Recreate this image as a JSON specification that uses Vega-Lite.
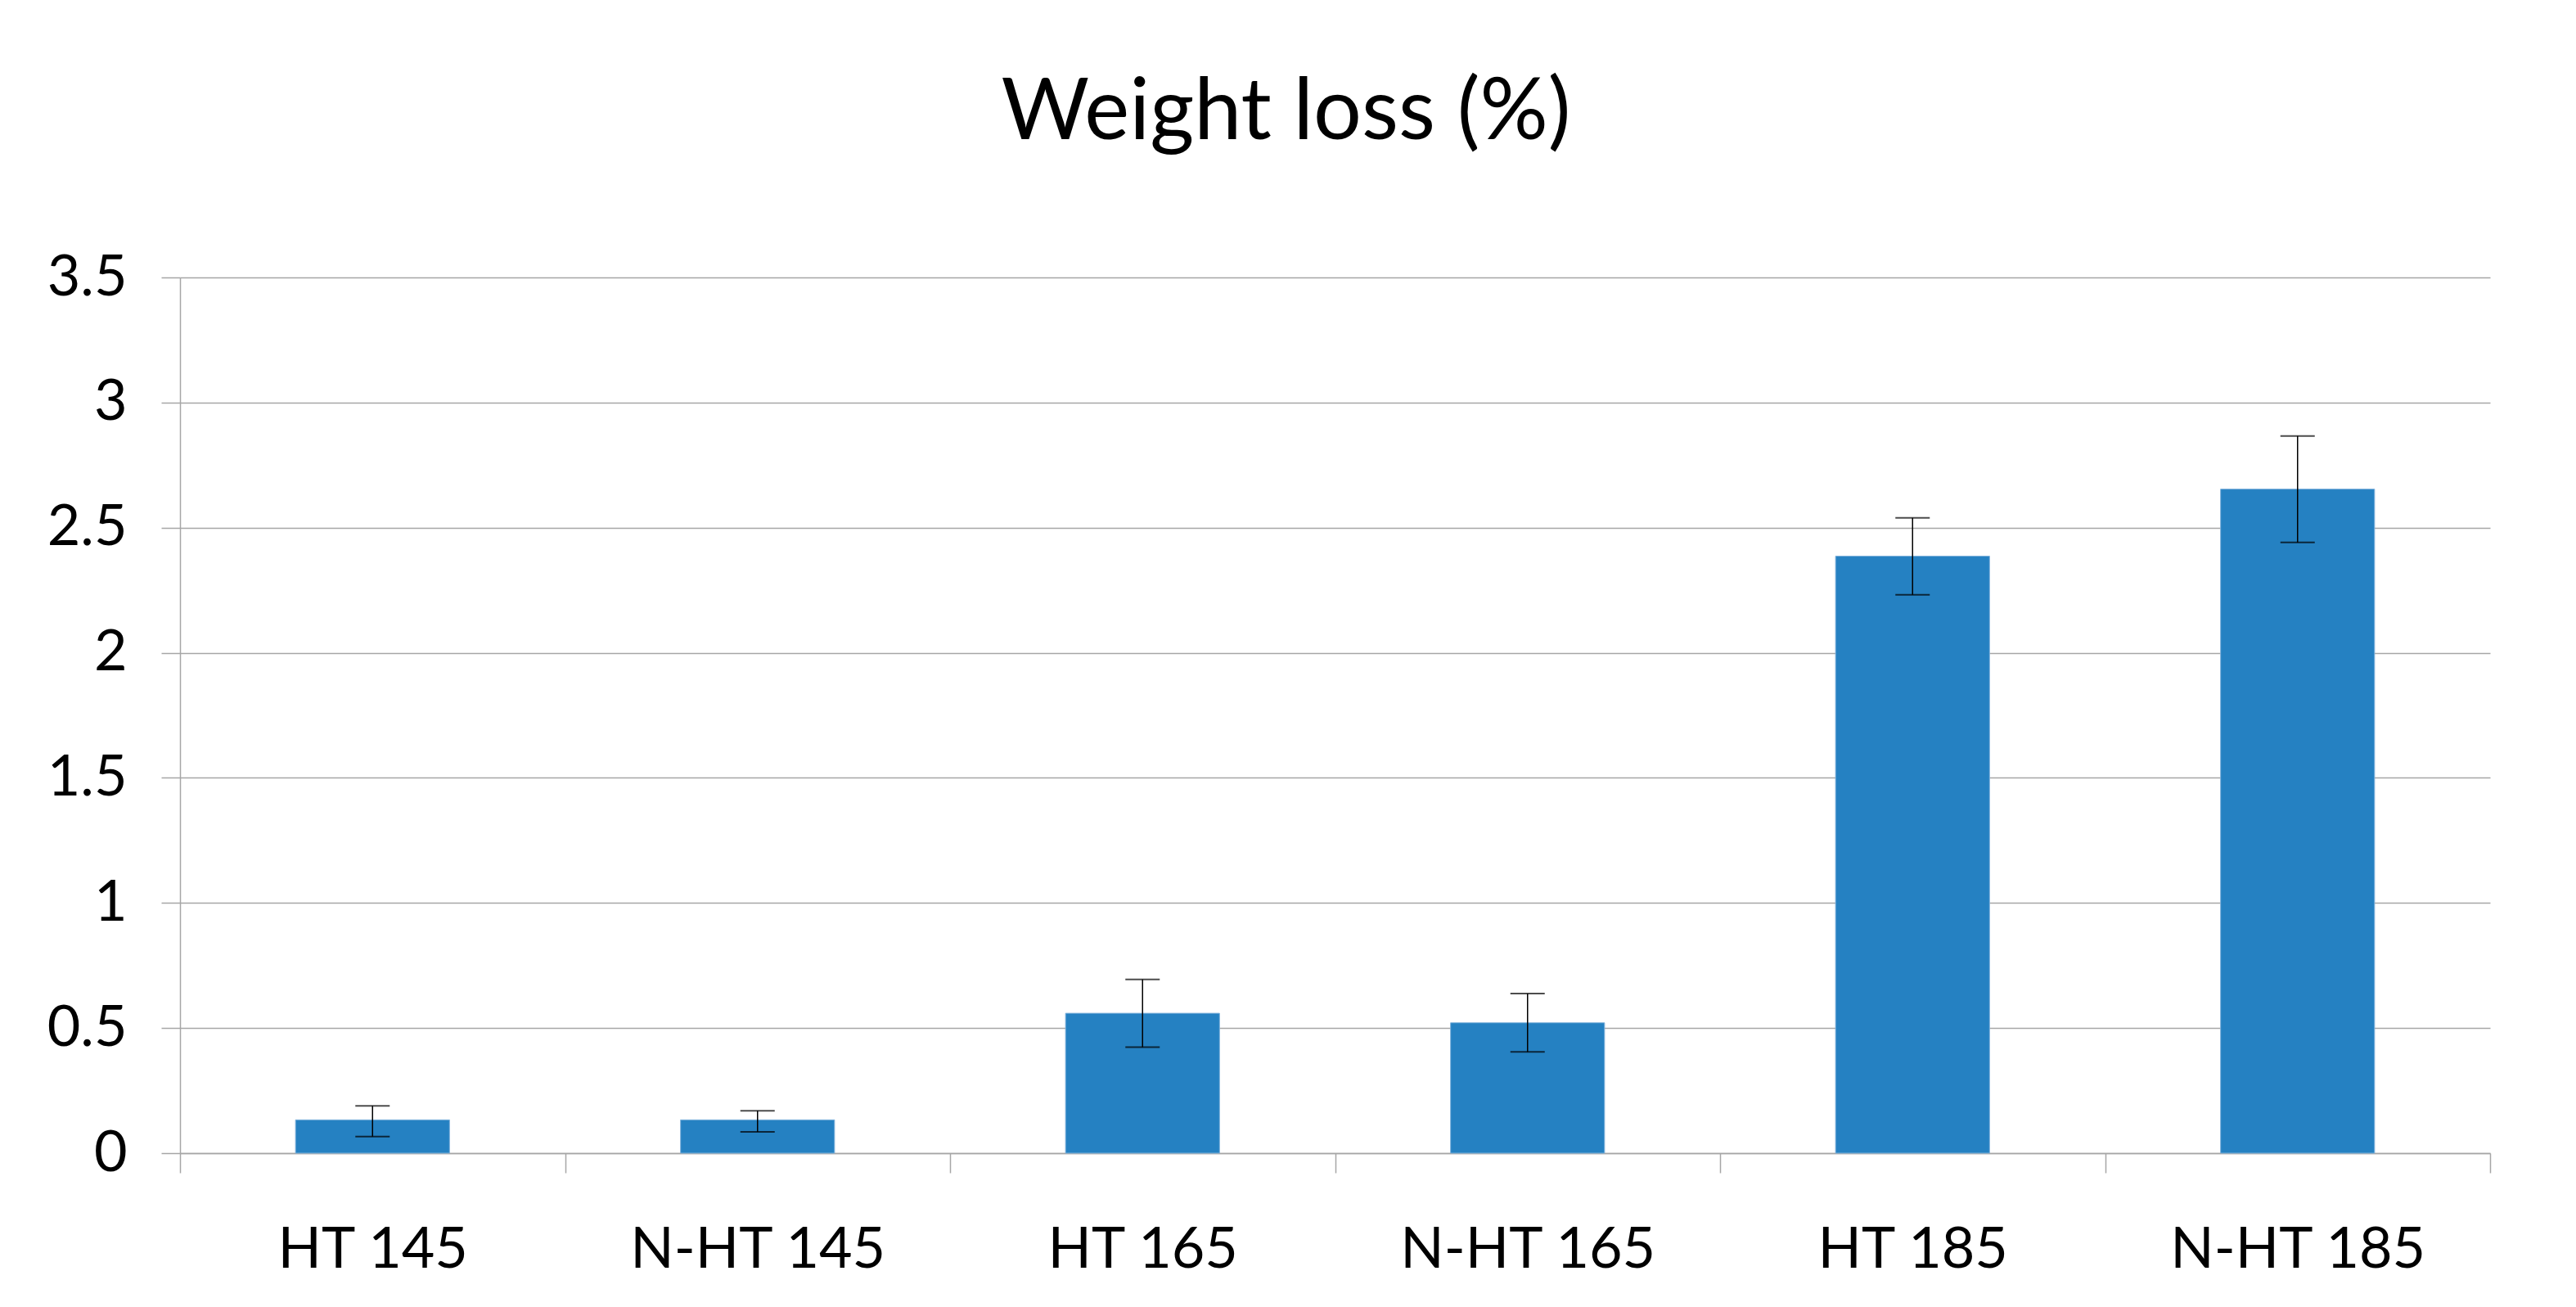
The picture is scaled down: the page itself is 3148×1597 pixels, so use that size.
{
  "$schema": "https://vega.github.io/schema/vega-lite/v6.json",
  "autosize": {"type": "none"},
  "width": 2823,
  "height": 1070,
  "padding": {"left": 220, "top": 339, "right": 105, "bottom": 188},
  "background": "white",
  "title": {
    "text": "Weight loss (%)",
    "font": "Lato",
    "fontSize": 104,
    "fontWeight": "normal",
    "color": "black",
    "anchor": "middle",
    "dx": -60,
    "offset": 112
  },
  "data": {
    "values": [
      {"group": "HT 145", "mean": 0.133, "low": 0.066, "high": 0.189},
      {"group": "N-HT 145", "mean": 0.133, "low": 0.085, "high": 0.169},
      {"group": "HT 165", "mean": 0.559, "low": 0.424, "high": 0.694},
      {"group": "N-HT 165", "mean": 0.521, "low": 0.405, "high": 0.638},
      {"group": "HT 185", "mean": 2.386, "low": 2.232, "high": 2.539},
      {"group": "N-HT 185", "mean": 2.654, "low": 2.441, "high": 2.866}
    ]
  },
  "encoding": {
    "x": {
      "field": "group",
      "type": "nominal",
      "sort": null,
      "scale": {"paddingInner": 0, "paddingOuter": 0},
      "axis": {
        "title": null,
        "labelAngle": 0,
        "labelLimit": 0,
        "labelFont": "Lato",
        "labelFontSize": 70,
        "labelColor": "black",
        "labelPadding": 60,
        "tickBand": "extent",
        "tickSize": 24,
        "tickColor": "#a6a6a6",
        "tickWidth": 1.5,
        "domainColor": "#a6a6a6",
        "domainWidth": 1.5,
        "grid": false
      }
    }
  },
  "layer": [
    {
      "mark": {"type": "bar", "color": "#2581c2", "stroke": "#7fb2dc", "strokeWidth": 1, "width": {"band": 0.4}},
      "encoding": {
        "y": {
          "field": "mean",
          "type": "quantitative",
          "scale": {"domain": [0, 3.5], "nice": false},
          "axis": {
            "title": null,
            "values": [0, 0.5, 1, 1.5, 2, 2.5, 3, 3.5],
            "format": "~g",
            "labelFont": "Lato",
            "labelFontSize": 70,
            "labelColor": "black",
            "labelPadding": 42,
            "tickSize": 23,
            "tickColor": "#a6a6a6",
            "tickWidth": 1.5,
            "domainColor": "#a6a6a6",
            "domainWidth": 1.5,
            "grid": true,
            "gridColor": "#a6a6a6",
            "gridWidth": 1.5
          }
        }
      }
    },
    {
      "mark": {"type": "rule", "color": "black", "strokeWidth": 1.5},
      "encoding": {
        "y": {"field": "low", "type": "quantitative"},
        "y2": {"field": "high"}
      }
    },
    {
      "mark": {"type": "tick", "color": "black", "size": 42, "thickness": 2},
      "encoding": {
        "y": {"field": "low", "type": "quantitative"}
      }
    },
    {
      "mark": {"type": "tick", "color": "black", "size": 42, "thickness": 2},
      "encoding": {
        "y": {"field": "high", "type": "quantitative"}
      }
    }
  ],
  "config": {
    "view": {"stroke": null}
  }
}
